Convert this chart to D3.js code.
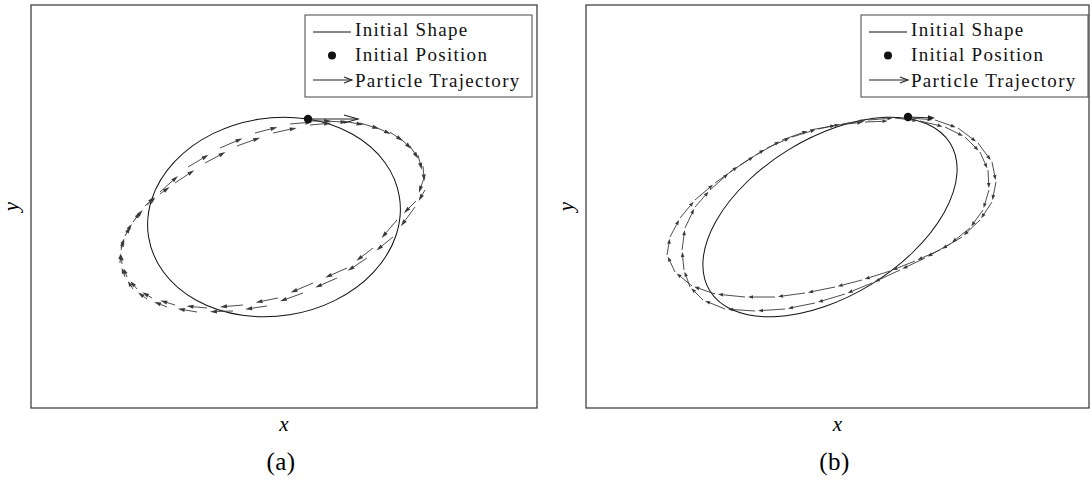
<!DOCTYPE html>
<html>
<head>
<meta charset="utf-8">
<script src="https://cdn.jsdelivr.net/npm/d3@7"></script>
<style>
  body { margin: 0; background: #fff; }
  svg { display: block; }
</style>
</head>
<body>
<svg id="chart" width="1092" height="483"></svg>
<script>
// Axes have no ticks, so units are arbitrary (1 unit ~ 1 px of the box)

// ---- panel (a) ----
// initial shape: ellipse centre, semi-axes, tilt (degrees, counter-clockwise)
const shapeCenterA = [243, 191];
const shapeRadiiA = [127, 99];
const shapeTiltA = 9;
const startA = { x: 277, y: 289, u: 50, v: 0 };
// particle positions at each time step (two laps)
const trajAx = [279, 312, 344, 369, 387, 393, 385, 366, 342, 316, 282, 247, 212, 176, 144, 121, 106, 96, 91, 90, 94, 102, 114, 129, 157, 189, 224, 259,
                294, 329, 359, 379, 392, 394, 384, 362, 336, 306, 272, 236, 202, 166, 136, 116, 102, 94, 89, 90, 95, 104, 116, 129, 144, 174, 206, 242, 279, 312];
const trajAy = [287, 287, 281, 270, 253, 230, 207, 188, 160, 140, 125, 110, 103, 100, 103, 110, 119, 131, 144, 158, 172, 186, 202, 216, 241, 260, 275, 284,
                287, 285, 276, 262, 242, 218, 201, 171, 150, 130, 115, 102, 97, 96, 101, 109, 119, 131, 145, 160, 175, 189, 203, 214, 225, 245, 262, 275, 283, 286];

// ---- panel (b) ----
const shapeCenterB = [244, 191];
const shapeRadiiB = [141, 79];
const shapeTiltB = 31.5;
const startB = { x: 322, y: 291, u: 27, v: -1 };
const trajBx = [324, 349, 372, 392, 406, 410, 406, 394, 376, 354, 329, 304, 276, 249, 219, 189, 159, 129, 106, 89, 81, 84, 94, 109, 129, 154, 181, 206, 232, 256, 282, 309,
                334, 359, 379, 394, 402, 403, 397, 384, 364, 339, 314, 286, 259, 229, 199, 169, 139, 117, 104, 98, 96, 99, 109, 124, 144, 170, 196, 224, 252, 279, 304];
const trajBy = [290, 288, 280, 265, 246, 226, 206, 188, 171, 158, 147, 137, 128, 121, 115, 111, 111, 114, 122, 136, 153, 171, 190, 208, 225, 243, 260, 271, 279, 284, 288, 290,
                287, 281, 271, 256, 238, 218, 198, 180, 164, 150, 138, 125, 114, 105, 99, 97, 99, 108, 121, 138, 158, 180, 201, 218, 236, 253, 268, 278, 283, 286, 287];

const legendLabels = ["Initial Shape", "Initial Position", "Particle Trajectory"];
const panelLabels = ["(a)", "(b)"];

const svg = d3.select("#chart");
const serif = "'Liberation Serif', 'Times New Roman', serif";
const boxH = 403;

// filled narrow head, like the quiver arrows
function arrow(g, x0, y0, x1, y1, hl, hw, color, sw) {
  const dx = x1 - x0, dy = y1 - y0;
  const len = Math.hypot(dx, dy);
  if (len < 1) return;
  const ux = dx / len, uy = dy / len;
  const h = Math.min(hl, len * 0.6);
  const bx = x1 - ux * h, by = y1 - uy * h;
  g.append("line")
    .attr("x1", x0).attr("y1", y0).attr("x2", bx).attr("y2", by)
    .attr("stroke", color).attr("stroke-width", sw);
  g.append("path")
    .attr("d", `M${x1},${y1}L${bx - uy * hw},${by + ux * hw}L${bx + uy * hw},${by - ux * hw}Z`)
    .attr("fill", color);
}

// open ">" head, used for the start arrow and in the legend
function openArrow(g, x0, y0, x1, y1, hl, hw) {
  const dx = x1 - x0, dy = y1 - y0;
  const len = Math.hypot(dx, dy);
  const ux = dx / len, uy = dy / len;
  const bx = x1 - ux * hl, by = y1 - uy * hl;
  g.append("line")
    .attr("x1", x0).attr("y1", y0).attr("x2", x1).attr("y2", y1)
    .attr("stroke", "#222").attr("stroke-width", 1.1);
  g.append("path")
    .attr("d", `M${bx - uy * hw},${by + ux * hw}L${x1},${y1}L${bx + uy * hw},${by - ux * hw}`)
    .attr("fill", "none").attr("stroke", "#222").attr("stroke-width", 1.1);
}

function drawPanel(p) {
  const g = svg.append("g");
  const x = d3.scaleLinear().domain([0, p.width]).range([p.left, p.left + p.width]);
  const y = d3.scaleLinear().domain([0, boxH]).range([p.top + boxH, p.top]);

  // initial shape
  const ecx = x(p.center[0]), ecy = y(p.center[1]);
  g.append("ellipse")
    .attr("cx", ecx).attr("cy", ecy)
    .attr("rx", x(p.radii[0]) - x(0)).attr("ry", y(0) - y(p.radii[1]))
    .attr("transform", `rotate(${-p.tilt},${ecx},${ecy})`)
    .attr("fill", "none").attr("stroke", "#111").attr("stroke-width", 1);

  // trajectory: arrow from each step towards the next one
  const tg = g.append("g");
  for (let i = 0; i < p.trajX.length - 1; i++) {
    const x0 = x(p.trajX[i]), y0 = y(p.trajY[i]);
    const x1 = x(p.trajX[i + 1]), y1 = y(p.trajY[i + 1]);
    arrow(tg, x0, y0, x0 + p.k * (x1 - x0), y0 + p.k * (y1 - y0), p.hl, p.hw, "#3a3a3a", 0.9);
  }

  // starting arrow + dot
  if (p.openStart) {
    openArrow(g, x(p.start.x), y(p.start.y), x(p.start.x + p.start.u), y(p.start.y + p.start.v), 14, 4);
  } else {
    arrow(g, x(p.start.x), y(p.start.y), x(p.start.x + p.start.u), y(p.start.y + p.start.v), 7, 2.5, "#222", 1.1);
  }
  g.append("circle")
    .attr("cx", x(p.start.x)).attr("cy", y(p.start.y)).attr("r", 4.2).attr("fill", "#111");

  // frame
  g.append("rect")
    .attr("x", p.left).attr("y", p.top).attr("width", p.width).attr("height", boxH)
    .attr("fill", "none").attr("stroke", "#333").attr("stroke-width", 1.2);

  // legend
  const lg = g.append("g").attr("transform", `translate(${p.legendX},${p.top + 10})`);
  lg.append("rect")
    .attr("width", 227).attr("height", 82)
    .attr("fill", "#fff").attr("stroke", "#444").attr("stroke-width", 1);
  const rows = [17, 40.5, 65];
  lg.append("line").attr("x1", 8).attr("x2", 46).attr("y1", rows[0]).attr("y2", rows[0])
    .attr("stroke", "#111").attr("stroke-width", 1);
  lg.append("circle").attr("cx", 27).attr("cy", rows[1]).attr("r", 4).attr("fill", "#111");
  openArrow(lg, 8, rows[2], 47, rows[2], 8, 3);
  lg.selectAll("text.lab").data(legendLabels).join("text")
    .attr("class", "lab")
    .attr("x", 50).attr("y", (d, i) => rows[i] + 3.5 + i * 1.5)
    .attr("font-family", serif).attr("font-size", 19).attr("letter-spacing", 1.3)
    .attr("fill", "#111")
    .text(d => d);

  // axis labels
  g.append("text")
    .attr("x", p.left + p.width / 2).attr("y", 431)
    .attr("text-anchor", "middle").attr("font-family", serif).attr("font-style", "italic")
    .attr("font-size", 21).text("x");
  g.append("text")
    .attr("transform", `translate(${p.left - 13},${p.top + boxH / 2}) rotate(-90)`)
    .attr("text-anchor", "middle").attr("font-family", serif).attr("font-style", "italic")
    .attr("font-size", 21).text("y");
  g.append("text")
    .attr("x", p.left + p.width / 2 - 3).attr("y", 470)
    .attr("text-anchor", "middle").attr("font-family", serif)
    .attr("font-size", 25).attr("letter-spacing", 0.5).text(p.label);
}

drawPanel({
  left: 31, top: 5, width: 506, legendX: 305, label: panelLabels[0],
  center: shapeCenterA, radii: shapeRadiiA, tilt: shapeTiltA,
  trajX: trajAx, trajY: trajAy, start: startA,
  k: 0.64, hl: 7, hw: 2, openStart: true
});
drawPanel({
  left: 586, top: 5, width: 503, legendX: 861, label: panelLabels[1],
  center: shapeCenterB, radii: shapeRadiiB, tilt: shapeTiltB,
  trajX: trajBx, trajY: trajBy, start: startB,
  k: 0.9, hl: 5, hw: 1.8, openStart: false
});
</script>
</body>
</html>
